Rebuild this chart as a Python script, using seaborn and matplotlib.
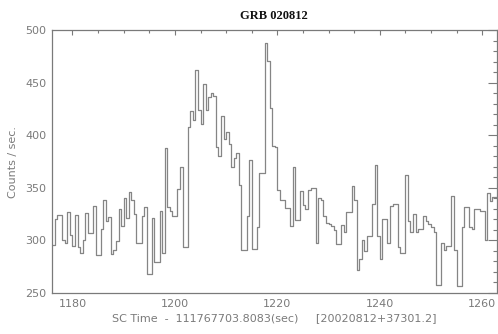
import numpy as np
import pandas as pd
import matplotlib
matplotlib.use("Agg")
import matplotlib.pyplot as plt
import seaborn as sns
from matplotlib.ticker import MultipleLocator

# ---- data: light curve, 0.5 s bins starting at t = 1176.0 s ----
bin_start = 1176.0
bin_width = 0.5

counts_pre = [296, 320, 324, 324, 300, 298, 327, 305, 295, 324,
              294, 288, 300, 326, 307, 307, 333, 286, 286, 311,
              338, 318, 322, 287, 291, 299, 330, 314, 340, 321,
              346, 338, 325, 298, 298, 323, 332, 268, 268, 321,
              279, 279, 328, 288]
counts_burst = [388, 332, 328, 323, 323, 349, 370, 294, 294, 408,
                423, 414, 462, 424, 411, 449, 424, 436, 440, 437,
                389, 380, 418, 396, 403, 392, 370, 378, 383, 353,
                291, 291, 323, 376, 292, 292, 313, 364, 364, 488,
                471, 426, 390, 389]
counts_decay = [348, 338, 338, 331, 331, 314, 370, 319, 319, 347,
                334, 330, 348, 350, 350, 298, 340, 338, 323, 317,
                316, 314, 310, 297, 297, 315, 308, 327, 327, 352,
                338, 272, 282, 300, 290, 304, 304, 335, 372, 304,
                282, 320, 320, 298]
counts_tail = [333, 335, 335, 294, 288, 288, 362, 318, 308, 325,
               308, 311, 311, 323, 318, 316, 313, 308, 258, 258,
               298, 291, 295, 295, 342, 291, 257, 257, 313, 332,
               332, 313, 311, 330, 330, 328, 328, 300, 345, 337,
               341, 341]

title = "GRB 020812"
xlabel = "SC Time  -  111767703.8083(sec)     [20020812+37301.2]"
ylabel = "Counts / sec."

counts = counts_pre + counts_burst + counts_decay + counts_tail
times = bin_start + bin_width * np.arange(len(counts))
t_plot = np.append(times, times[-1] + bin_width)
c_plot = np.append(counts, counts[-1])
df = pd.DataFrame({"time": t_plot, "rate": c_plot})

sns.set_style("white")
plt.rcParams["font.family"] = ["DejaVu Sans"]

GRAY = "#7a7a7a"
LINE = "#858585"

fig = plt.figure(figsize=(4.98, 3.34), dpi=100)
ax = fig.add_axes([52 / 498, 41 / 334, 444.5 / 498, 263 / 334])

sns.lineplot(data=df, x="time", y="rate", drawstyle="steps-post",
             color=LINE, linewidth=0.9, estimator=None, ax=ax)

ax.set_xlim(1176.0, 1262.8)
ax.set_ylim(250, 500)

ax.xaxis.set_major_locator(MultipleLocator(20))
ax.xaxis.set_minor_locator(MultipleLocator(5))
ax.yaxis.set_major_locator(MultipleLocator(50))
ax.yaxis.set_minor_locator(MultipleLocator(10))

ax.tick_params(which="both", direction="in", top=True, right=True,
               color=GRAY, labelcolor=GRAY, labelsize=8, width=0.8)
ax.tick_params(axis="x", which="major", length=3.8, pad=4)
ax.tick_params(axis="x", which="minor", length=1.9)
ax.tick_params(axis="y", which="major", length=6.4, pad=4)
ax.tick_params(axis="y", which="minor", length=3.2)

for s in ax.spines.values():
    s.set_color(GRAY)
    s.set_linewidth(0.9)

ax.set_xlabel(xlabel, color=GRAY, fontsize=8, labelpad=3)
ax.set_ylabel(ylabel, color=GRAY, fontsize=8, labelpad=5)
ax.set_title(title, fontfamily="Liberation Serif", fontweight="bold",
             fontsize=9, color="#111111", pad=8)

fig.savefig("out.png", dpi=100)
